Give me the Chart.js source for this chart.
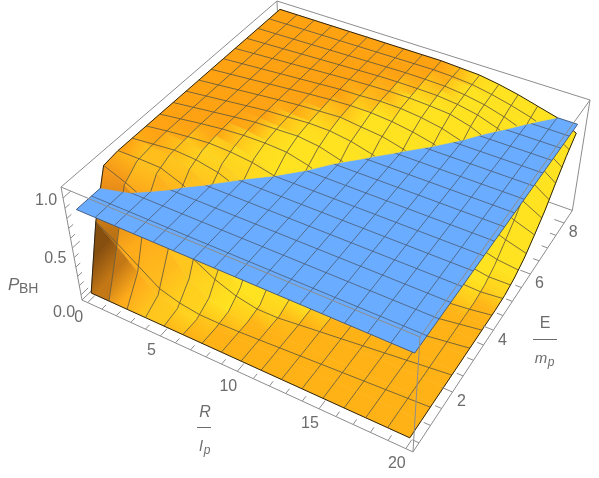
<!DOCTYPE html>
<html>
<head>
<meta charset="utf-8">
<title>P_BH</title>
<script src="https://cdn.jsdelivr.net/npm/chart.js@4/dist/chart.umd.min.js"></script>
<style>
  html, body { margin: 0; padding: 0; background: #fff; }
  canvas { display: block; }
</style>
</head>
<body>
<canvas id="superficie" width="599" height="478"></canvas>
<script>
/* ============================
   DATOS
============================ */
const R_VALUES = [0, 1.25, 2.5, 3.75, 5, 6.25, 7.5, 8.75, 10, 11.25, 12.5, 13.75, 15, 16.25, 17.5, 18.75, 20];
const E_VALUES = [0.4, 0.9, 1.4, 1.9, 2.4, 2.9, 3.4, 3.9, 4.4, 4.9, 5.4, 5.9, 6.4, 6.9, 7.4, 7.9, 8.4];

// P_BH por fila de E (cada columna es un valor de R)
const P_E04 = [0, 0, 0, 0, 0, 0, 0, 0, 0, 0, 0, 0, 0, 0, 0, 0, 0];
const P_E09 = [.61, .44, .25, .09, .03, 0, 0, 0, 0, 0, 0, 0, 0, 0, 0, 0, 0];
const P_E14 = [1.04, .92, .76, .42, .20, .08, .02, 0, 0, 0, 0, 0, 0, 0, 0, 0, 0];
const P_E19 = [1.06, 1.03, .98, .81, .54, .30, .13, .03, 0, 0, 0, 0, 0, 0, 0, 0, 0];
const P_E24 = [1.06, 1.05, 1.04, .97, .84, .62, .36, .18, .06, .01, 0, 0, 0, 0, 0, 0, 0];
const P_E29 = [1.06, 1.06, 1.05, 1.03, .97, .85, .68, .43, .22, .10, .03, 0, 0, 0, 0, 0, 0];
const P_E34 = [1.06, 1.06, 1.06, 1.05, 1.02, .97, .87, .71, .44, .24, .11, .04, 0, 0, 0, 0, 0];
const P_E39 = [1.06, 1.06, 1.06, 1.06, 1.05, 1.02, .97, .87, .71, .48, .28, .15, .06, 0, 0, 0, 0];
const P_E44 = [1.06, 1.06, 1.06, 1.06, 1.06, 1.04, 1.02, .96, .85, .72, .49, .31, .17, .08, .03, 0, 0];
const P_E49 = [1.06, 1.06, 1.06, 1.06, 1.06, 1.05, 1.04, 1.01, .95, .85, .72, .52, .31, .17, .10, .03, .01];
const P_E54 = [1.06, 1.06, 1.06, 1.06, 1.06, 1.06, 1.05, 1.04, .99, .94, .85, .72, .52, .31, .20, .10, .05];
const P_E59 = [1.06, 1.06, 1.06, 1.06, 1.06, 1.06, 1.06, 1.05, 1.03, .99, .93, .85, .71, .51, .34, .22, .12];
const P_E64 = [1.06, 1.06, 1.06, 1.06, 1.06, 1.06, 1.06, 1.05, 1.05, 1.03, .99, .93, .84, .68, .51, .34, .23];
const P_E69 = [1.06, 1.06, 1.06, 1.06, 1.06, 1.06, 1.06, 1.06, 1.05, 1.04, 1.02, .99, .92, .81, .68, .51, .35];
const P_E74 = [1.06, 1.06, 1.06, 1.06, 1.06, 1.06, 1.06, 1.06, 1.06, 1.05, 1.04, 1.01, .97, .90, .80, .67, .51];
const P_E79 = [1.06, 1.06, 1.06, 1.06, 1.06, 1.06, 1.06, 1.06, 1.06, 1.06, 1.05, 1.03, .99, .94, .88, .79, .66];
const P_E84 = [1.06, 1.06, 1.06, 1.06, 1.06, 1.06, 1.06, 1.06, 1.06, 1.06, 1.05, 1.04, 1.01, .97, .92, .87, .78];

const P_ROWS = [P_E04, P_E09, P_E14, P_E19, P_E24, P_E29, P_E34, P_E39, P_E44,
                P_E49, P_E54, P_E59, P_E64, P_E69, P_E74, P_E79, P_E84];

// en R=20 las lineas de malla de E no van a paso fijo
const MESH_E_AT_R20 = [0.4, 1.29, 2.27, 3.13, 3.73, 4.24, 4.8, 5.2, 5.6, 6, 6.4, 6.75, 7.1, 7.4, 7.7, 8.05, 8.4];

const PLANE_P = 0.87;

const R_TICKS = [0, 5, 10, 15, 20];
const E_TICKS = [2, 4, 6, 8];
const P_TICKS = [0, 0.5, 1];

const BOX_R = [-0.4, 20.4];
const BOX_E = [0.243, 8.521];
const BOX_P = [-0.058, 1.105];

/* ============================
   CAMARA (proyeccion de la caja)
============================ */
const CAMERA = [
    [306.35, 275.57, -27.72, 88.72],
    [107.75, -185.78, -137.6, 324.6],
    [-0.12536, 0.21505, -0.082, 1.082]
];

function project(R, E, P) {
    const u = (R - BOX_R[0]) / (BOX_R[1] - BOX_R[0]);
    const v = (E - BOX_E[0]) / (BOX_E[1] - BOX_E[0]);
    const w = (P - BOX_P[0]) / (BOX_P[1] - BOX_P[0]);
    const [a, b, c] = CAMERA.map(m => m[0] * u + m[1] * v + m[2] * w + m[3]);
    return { x: a / c, y: b / c };
}

/* ============================
   HELPERS
============================ */
const GAP = { x: NaN, y: NaN };
const clamp = (v, a = 0, b = 1) => Math.min(b, Math.max(a, v));
const mix = (c1, c2, t) => c1.map((v, i) => v + (c2[i] - v) * t);
const css = c => `rgb(${c.map(v => Math.round(v)).join(",")})`;

const FLAT_LOW = [255, 178, 22];
const FLAT_HIGH = [255, 160, 18];
const YELLOW = [255, 226, 32];
const WALL = [255, 156, 26];
const DARK = [104, 60, 14];

function vertexColor(i, j) {
    const row = P_ROWS[j];
    const j0 = Math.max(0, j - 1), j1 = Math.min(16, j + 1);
    const i0 = Math.max(0, i - 1), i1 = Math.min(16, i + 1);
    const scaleP = 1 / (BOX_P[1] - BOX_P[0]);
    const gE = (P_ROWS[j1][i] - P_ROWS[j0][i]) * scaleP /
               ((E_VALUES[j1] - E_VALUES[j0]) / (BOX_E[1] - BOX_E[0]));
    const gR = (row[i1] - row[i0]) * scaleP /
               ((R_VALUES[i1] - R_VALUES[i0]) / (BOX_R[1] - BOX_R[0]));
    const g = Math.hypot(gE, gR);
    const R = R_VALUES[i], E = E_VALUES[j];

    let t = row[i] > 0.5 ? clamp((1.064 - row[i]) / 0.036) : clamp((g - 0.12) / 0.8);
    t = t * t * (3 - 2 * t);
    let c = mix(mix(FLAT_LOW, FLAT_HIGH, clamp(row[i] / 0.8)), YELLOW, t);
    c = mix(c, WALL, clamp(1.15 - R / 6.5) * clamp(g / 3));
    c = mix(c, DARK, clamp(1 - R / 2.5) * clamp(1.1 - (E - 0.4)));
    return c;
}

// corta un segmento contra el plano; devuelve el tramo de abajo o de arriba
function clipSegment(a, b, below) {
    const inA = below ? a.P <= PLANE_P : a.P >= PLANE_P;
    const inB = below ? b.P <= PLANE_P : b.P >= PLANE_P;
    if (inA && inB) return [a, b];
    if (!inA && !inB) return null;
    const t = (PLANE_P - a.P) / (b.P - a.P);
    const m = { R: a.R + (b.R - a.R) * t, E: a.E + (b.E - a.E) * t, P: PLANE_P };
    return inA ? [a, m] : [m, b];
}

function clipPolygon(verts, below) {
    const out = [];
    verts.forEach((a, k) => {
        const b = verts[(k + 1) % verts.length];
        const seg = clipSegment(a, b, below);
        if (!seg) return;
        if (!out.length || out[out.length - 1] !== seg[0]) out.push(seg[0]);
        if (seg[1] !== verts[0]) out.push(seg[1]);
    });
    return out;
}

const toPixels = v => project(v.R, v.E, v.P);

function vertex(i, j) {
    return { R: R_VALUES[i], E: E_VALUES[j], P: P_ROWS[j][i] };
}

// punto de la linea de malla j sobre la columna i
function meshVertex(i, j) {
    const R = R_VALUES[i];
    const E = E_VALUES[j] + (MESH_E_AT_R20[j] - E_VALUES[j]) * R / 20;
    let k = 0;
    while (k < 15 && E_VALUES[k + 1] < E) k++;
    const t = (E - E_VALUES[k]) / (E_VALUES[k + 1] - E_VALUES[k]);
    return { R, E, P: P_ROWS[k][i] + (P_ROWS[k + 1][i] - P_ROWS[k][i]) * t };
}

function lineSet(points, color, width) {
    return {
        data: points,
        borderColor: color,
        borderWidth: width,
        fill: false,
        spanGaps: false
    };
}

/* ============================
   CELDAS DE LA SUPERFICIE
============================ */
function cellGradient(chart, i, j) {
    const sx = chart.scales.x, sy = chart.scales.y;
    const c00 = vertexColor(i, j), c10 = vertexColor(i + 1, j);
    const c01 = vertexColor(i, j + 1), c11 = vertexColor(i + 1, j + 1);
    const dist = (a, b) => Math.hypot(a[0] - b[0], a[1] - b[1], a[2] - b[2]);
    const alongE = dist(c00, c01) + dist(c10, c11) >= dist(c00, c10) + dist(c01, c11);

    const first = alongE ? mix(c00, c10, 0.5) : mix(c00, c01, 0.5);
    const last = alongE ? mix(c01, c11, 0.5) : mix(c10, c11, 0.5);

    // antes del primer layout las escalas aun no dan pixeles
    const pts = [[i, j], [i + 1, j], [i, j + 1], [i + 1, j + 1]].map(([a, b]) => {
        const p = toPixels(vertex(a, b));
        return { x: sx.getPixelForValue(p.x), y: sy.getPixelForValue(p.y) };
    });
    if (!pts.every(p => Number.isFinite(p.x) && Number.isFinite(p.y))) return css(first);

    const avg = (p, q) => ({ x: (p.x + q.x) / 2, y: (p.y + q.y) / 2 });
    const start = alongE ? avg(pts[0], pts[1]) : avg(pts[0], pts[2]);
    const end = alongE ? avg(pts[2], pts[3]) : avg(pts[1], pts[3]);

    const grad = chart.ctx.createLinearGradient(start.x, start.y, end.x, end.y);
    grad.addColorStop(0, css(first));
    grad.addColorStop(1, css(last));
    return grad;
}

const MESH = "rgb(100,88,58)";
const EDGE = "rgb(44,36,20)";

function surfaceLayer(below) {
    const sets = [];
    for (let j = 15; j >= 0; j--) {
        for (let i = 0; i < 16; i++) {
            const corners = [vertex(i, j), vertex(i + 1, j), vertex(i + 1, j + 1), vertex(i, j + 1)];
            const poly = clipPolygon(corners, below);
            if (poly.length < 3) continue;

            const closed = poly.concat([poly[0]]).map(toPixels);
            const paint = c => cellGradient(c.chart, i, j);
            sets.push({
                data: closed,
                fill: "shape",
                backgroundColor: paint,
                borderColor: paint,
                borderWidth: 0.6,
                pointBackgroundColor: "transparent",
                pointBorderColor: "transparent"
            });
        }
    }

    // malla y borde de la superficie
    const mesh = [], rim = [];
    const addTo = (list, a, b) => {
        const seg = clipSegment(a, b, below);
        if (seg) list.push(toPixels(seg[0]), toPixels(seg[1]), GAP);
    };
    for (let k = 1; k < 16; k++) {
        for (let n = 0; n < 16; n++) {
            addTo(mesh, meshVertex(n, k), meshVertex(n + 1, k));
            addTo(mesh, vertex(k, n), vertex(k, n + 1));
        }
    }
    for (let k = 0; k < 16; k++) {
        addTo(rim, vertex(k, 0), vertex(k + 1, 0));
        addTo(rim, vertex(k, 16), vertex(k + 1, 16));
        addTo(rim, vertex(0, k), vertex(0, k + 1));
        addTo(rim, vertex(16, k), vertex(16, k + 1));
    }
    sets.push(lineSet(mesh, MESH, 0.85));
    sets.push(lineSet(rim, EDGE, 1));
    return sets;
}

/* ============================
   PLANO AZUL
============================ */
function planeLayer() {
    const corner = (i, j) => project(R_VALUES[i], E_VALUES[j], PLANE_P);
    const sets = [{
        data: [corner(0, 0), corner(16, 0), corner(16, 16), corner(0, 16), corner(0, 0)],
        fill: "shape",
        backgroundColor: "rgb(106,172,255)",
        borderColor: "rgb(60,84,120)",
        borderWidth: 0.9,
        pointBackgroundColor: "transparent",
        pointBorderColor: "transparent"
    }];
    const mesh = [];
    for (let k = 1; k < 16; k++) {
        mesh.push(corner(k, 0), corner(k, 16), GAP);
        mesh.push(corner(0, k), corner(16, k), GAP);
    }
    sets.push(lineSet(mesh, "rgb(76,96,124)", 0.85));
    return sets;
}

/* ============================
   CAJA Y MARCAS
============================ */
function boxEdge(r, e, p, r2, e2, p2) {
    return [project(BOX_R[r], BOX_E[e], BOX_P[p]), project(BOX_R[r2], BOX_E[e2], BOX_P[p2]), GAP];
}

function backBox() {
    return lineSet([
        ...boxEdge(0, 0, 1, 0, 1, 1),
        ...boxEdge(0, 1, 1, 1, 1, 1),
        ...boxEdge(0, 0, 0, 0, 1, 0),
        ...boxEdge(0, 1, 0, 1, 1, 0),
        ...boxEdge(0, 1, 0, 0, 1, 1)
    ], "rgb(140,140,140)", 1);
}

function frontBox() {
    return lineSet([
        ...boxEdge(0, 0, 1, 1, 0, 1),
        ...boxEdge(1, 0, 1, 1, 1, 1),
        ...boxEdge(1, 0, 0, 1, 0, 1),
        ...boxEdge(1, 1, 0, 1, 1, 1),
        ...boxEdge(0, 0, 0, 1, 0, 0),
        ...boxEdge(1, 0, 0, 1, 1, 0),
        ...boxEdge(0, 0, 0, 0, 0, 1)
    ], "rgb(140,140,140)", 1);
}

function tickMarks() {
    const marks = [];
    const spanE = BOX_E[1] - BOX_E[0], spanR = BOX_R[1] - BOX_R[0];
    for (let r = 0; r <= 20; r++) {
        const len = (r % 5 === 0 ? 0.03 : 0.018) * spanE;
        marks.push(project(r, BOX_E[0], BOX_P[0]), project(r, BOX_E[0] + len, BOX_P[0]), GAP);
    }
    for (let k = 1; k <= 16; k++) {
        const e = k / 2;
        const len = (k % 4 === 0 ? 0.03 : 0.018) * spanR;
        marks.push(project(BOX_R[1], e, BOX_P[0]), project(BOX_R[1] - len, e, BOX_P[0]), GAP);
    }
    for (let k = 0; k <= 10; k++) {
        const p = k / 10;
        const len = (k % 5 === 0 ? 0.03 : 0.018) * spanE;
        marks.push(project(BOX_R[0], BOX_E[0], p), project(BOX_R[0], BOX_E[0] + len, p), GAP);
    }
    return lineSet(marks, "rgb(140,140,140)", 1);
}

/* ============================
   TEXTOS
============================ */
const TEXT_COLOR = "rgb(108,108,108)";
const FONT = '"Liberation Sans", Arial, sans-serif';

const axisText = {
    id: "axisText",
    afterDraw(chart) {
        const { ctx, scales: { x, y } } = chart;
        const put = (text, px, py, font, align = "center") => {
            ctx.font = `${font} ${FONT}`;
            ctx.textAlign = align;
            ctx.fillText(text, x.getPixelForValue(px), y.getPixelForValue(py));
        };
        ctx.save();
        ctx.fillStyle = TEXT_COLOR;
        ctx.strokeStyle = TEXT_COLOR;
        ctx.textBaseline = "middle";

        R_TICKS.forEach(r => {
            const p = project(r, BOX_E[0], BOX_P[0]);
            put(String(r), p.x - 9, p.y + 15, "16px");
        });
        E_TICKS.forEach(e => {
            const p = project(BOX_R[1], e, BOX_P[0]);
            put(String(e), p.x + 9, p.y + 10, "16px");
        });
        P_TICKS.forEach(v => {
            const p = project(BOX_R[0], BOX_E[0], v);
            put(v.toFixed(1), p.x - 17, p.y + 18 - 15 * v, "16px");
        });

        // P_BH
        put("P", 8, 285, "italic 17px", "left");
        put("BH", 19, 289, "14px", "left");

        // R / l_p
        put("R", 205, 413, "italic 16px");
        put("l", 201, 447, "italic 15px");
        put("p", 207, 451, "italic 12px");
        // E / m_p
        put("E", 545, 324, "16px");
        put("m", 541, 359, "italic 15px");
        put("p", 551, 363, "italic 12px");

        ctx.lineWidth = 1;
        ctx.beginPath();
        ctx.moveTo(197, 427.5); ctx.lineTo(211, 427.5);
        ctx.moveTo(533, 339.5); ctx.lineTo(557, 339.5);
        ctx.stroke();
        ctx.restore();
    }
};

/* ============================
   CHART
============================ */
function init() {
    // se dibuja del primero al ultimo; Chart.js pinta el indice mas alto primero
    const layers = [
        backBox(),
        ...surfaceLayer(true),
        ...planeLayer(),
        ...surfaceLayer(false),
        frontBox(),
        tickMarks()
    ];

    new Chart(document.getElementById("superficie").getContext("2d"), {
        type: "line",
        data: { datasets: layers.reverse() },
        options: {
            responsive: false,
            animation: false,
            events: [],
            layout: { padding: 0 },
            elements: { point: { radius: 0, hoverRadius: 0 }, line: { tension: 0 } },
            scales: {
                x: { type: "linear", min: 0, max: 599, display: false },
                y: { type: "linear", min: 0, max: 478, reverse: true, display: false }
            },
            plugins: { legend: { display: false }, tooltip: { enabled: false } }
        },
        plugins: [axisText]
    });
}

init();
</script>
</body>
</html>
